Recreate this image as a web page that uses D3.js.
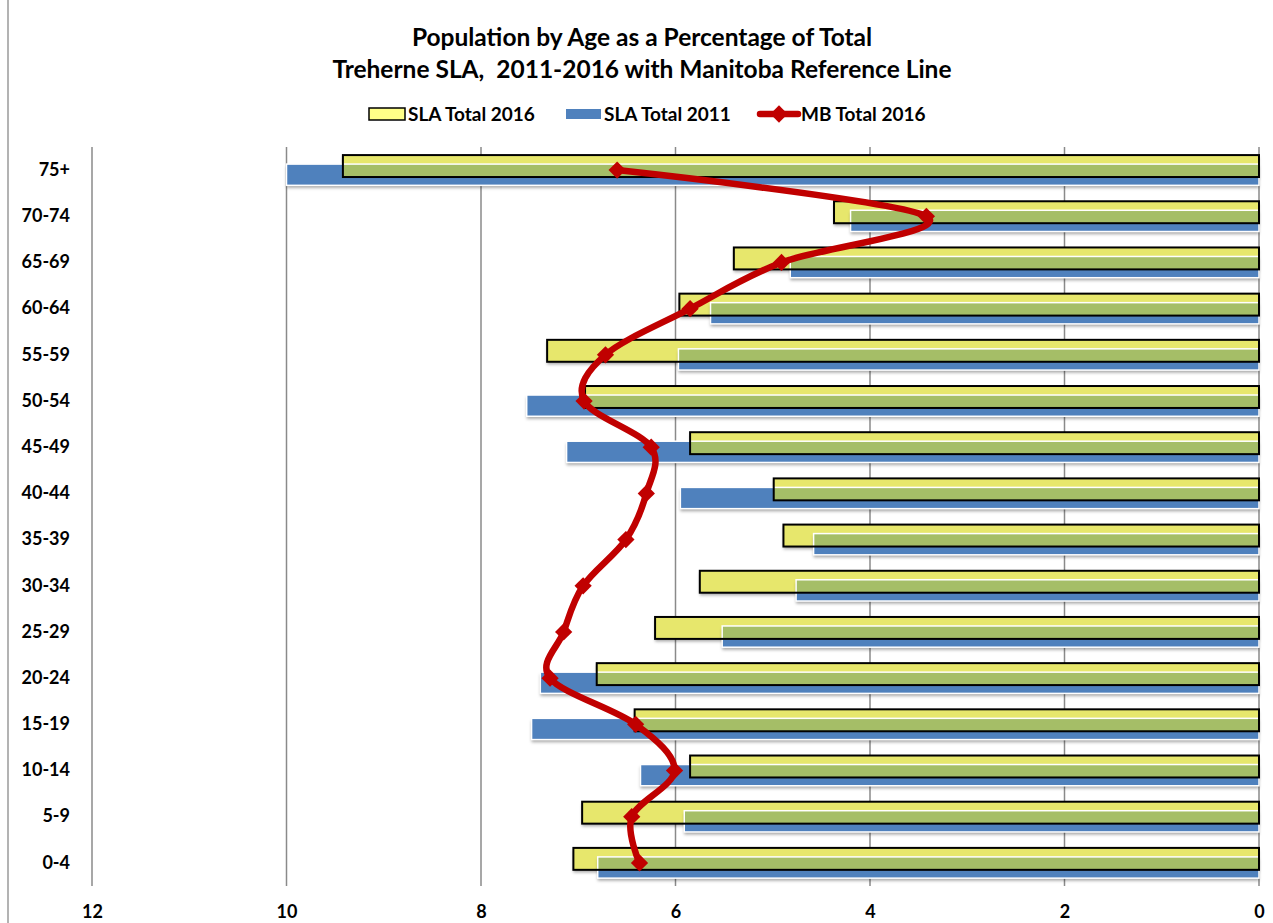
<!DOCTYPE html>
<html lang="en">
<head>
  <meta charset="UTF-8">
  <title>Population by Age</title>
  <script src="https://cdn.jsdelivr.net/npm/d3@7"></script>
  <style>
    body{ margin:0; background:#fff; }
    svg text{ font-family: Lato, "Open Sans", sans-serif; font-weight:700; fill:#000; }
  </style>
</head>
<body>
<div class="chart"></div>
<script>
  // data, top row first
  const ageGroups = ['75+','70-74','65-69','60-64','55-59','50-54','45-49','40-44','35-39','30-34','25-29','20-24','15-19','10-14','5-9','0-4'];
  const sla2016 = [9.42, 4.37, 5.40, 5.96, 7.32, 6.93, 5.85, 4.99, 4.89, 5.75, 6.21, 6.81, 6.42, 5.85, 6.96, 7.05];
  const sla2011 = [10.0, 4.20, 4.82, 5.64, 5.97, 7.53, 7.12, 5.95, 4.58, 4.76, 5.52, 7.39, 7.48, 6.36, 5.91, 6.80];
  const mb2016  = [6.60, 3.42, 4.91, 5.85, 6.72, 6.94, 6.25, 6.30, 6.51, 6.95, 7.15, 7.29, 6.41, 6.01, 6.45, 6.37];
  const xTicks = [12, 10, 8, 6, 4, 2, 0];
  const seriesNames = ['SLA Total 2016', 'SLA Total 2011', 'MB Total 2016'];

  const rows = ageGroups.map((g, i) => ({g, y16: sla2016[i], y11: sla2011[i], mb: mb2016[i]}));

  let chart = {
    size: {w: 1273, h: 923},
    plot: {left: 92, right: 1259, top: 147, bottom: 886}
  };

  const col = {yellow:'#E7E76C', blue:'#4F81BD', green:'#A5BE67', red:'#C00000', grid:'#8A8A8A'};

  let x = d3.scaleLinear().domain([12, 0]).range([chart.plot.left, chart.plot.right]);
  let y = d3.scaleBand().domain(ageGroups).range([chart.plot.top, chart.plot.bottom]);
  const bw = y.bandwidth();
  const yel = {off: bw*0.175, h: bw*0.475};
  const blu = {off: bw*0.37, h: bw*0.46};

  let svg = d3.select('.chart').append('svg')
    .attr('width', chart.size.w)
    .attr('height', chart.size.h);

  const defs = svg.append('defs');
  defs.append('filter').attr('id','shadow').attr('x','-5%').attr('y','-50%').attr('width','110%').attr('height','220%')
    .append('feDropShadow').attr('dx',0).attr('dy',2.5).attr('stdDeviation',1.5)
    .attr('flood-color','#000').attr('flood-opacity',0.35);

  // outer frame line
  svg.append('line').attr('x1',8).attr('x2',8).attr('y1',0).attr('y2',chart.size.h)
    .attr('stroke','#9a9a9a').attr('stroke-width',1.5);

  // title
  const title = svg.append('text').attr('text-anchor','middle').attr('font-size',24.5);
  title.append('tspan').attr('x',642).attr('y',46).text('Population by Age as a Percentage of Total');
  title.append('tspan').attr('x',642).attr('y',78).text('Treherne SLA,\u00a0\u00a02011-2016 with Manitoba Reference Line');

  // gridlines
  svg.append('g').selectAll('line').data(xTicks).enter().append('line')
    .attr('x1', d => x(d)).attr('x2', d => x(d))
    .attr('y1', chart.plot.top).attr('y2', chart.plot.bottom)
    .attr('stroke', col.grid).attr('stroke-width', 1.5);

  // axes
  let xAxis = d3.axisBottom(x).tickValues(xTicks).tickSize(0).tickPadding(19).tickFormat(d3.format('d'));
  let gx = svg.append('g').attr('transform', `translate(0, ${chart.plot.bottom})`).call(xAxis);
  gx.select('.domain').remove();
  gx.selectAll('text').attr('font-size', 18).attr('font-family', null);

  let yAxis = d3.axisLeft(y).tickSize(0).tickPadding(22);
  let gy = svg.append('g').attr('transform', `translate(${chart.plot.left}, 0)`).call(yAxis);
  gy.select('.domain').remove();
  gy.selectAll('text').attr('font-size', 18).attr('font-family', null);

  // bars
  let g = svg.append('g').selectAll('g').data(rows).enter().append('g')
    .attr('transform', d => `translate(0, ${y(d.g)})`);

  g.append('rect').attr('class','y16')
    .attr('x', d => x(d.y16)).attr('y', yel.off)
    .attr('width', d => x(0) - x(d.y16)).attr('height', yel.h)
    .attr('fill', col.yellow).attr('filter','url(#shadow)');

  g.append('rect').attr('class','y11')
    .attr('x', d => x(d.y11)).attr('y', blu.off)
    .attr('width', d => x(0) - x(d.y11)).attr('height', blu.h)
    .attr('fill', col.blue).attr('filter','url(#shadow)');

  // overlap area
  g.append('rect')
    .attr('x', d => x(Math.min(d.y16, d.y11))).attr('y', blu.off)
    .attr('width', d => x(0) - x(Math.min(d.y16, d.y11))).attr('height', yel.off + yel.h - blu.off)
    .attr('fill', col.green);

  g.append('rect')
    .attr('x', d => x(d.y11)).attr('y', blu.off)
    .attr('width', d => x(0) - x(d.y11)).attr('height', blu.h)
    .attr('fill', 'none').attr('stroke', '#fff').attr('stroke-width', 1.5);

  g.append('rect')
    .attr('x', d => x(d.y16)).attr('y', yel.off)
    .attr('width', d => x(0) - x(d.y16)).attr('height', yel.h)
    .attr('fill', 'none').attr('stroke', '#000').attr('stroke-width', 2);

  // MB reference line
  const line = d3.line()
    .x(d => x(d.mb)).y(d => y(d.g) + bw/2)
    .curve(d3.curveCatmullRom.alpha(0));
  svg.append('path').datum(rows)
    .attr('d', line).attr('fill','none')
    .attr('stroke', col.red).attr('stroke-width', 6.5).attr('stroke-linejoin','round');

  const diamond = d3.symbol().type(d3.symbolDiamond2).size(190);
  svg.append('g').selectAll('path').data(rows).enter().append('path')
    .attr('d', diamond)
    .attr('transform', d => `translate(${x(d.mb)}, ${y(d.g) + bw/2})`)
    .attr('fill', col.red);

  // legend
  const lg = svg.append('g').attr('transform', 'translate(0, 114)');
  lg.append('rect').attr('x',369).attr('y',-6).attr('width',36).attr('height',12)
    .attr('fill','#FFFF88').attr('stroke','#000').attr('stroke-width',1.5);
  lg.append('text').attr('x',408).attr('y',7).attr('font-size',19).text(seriesNames[0]);
  lg.append('rect').attr('x',566).attr('y',-5).attr('width',35).attr('height',10).attr('fill',col.blue);
  lg.append('text').attr('x',604).attr('y',7).attr('font-size',19).text(seriesNames[1]);
  lg.append('line').attr('x1',760).attr('x2',798).attr('y1',0).attr('y2',0)
    .attr('stroke',col.red).attr('stroke-width',6.5).attr('stroke-linecap','round');
  lg.append('path').attr('d', diamond).attr('transform','translate(779,0)').attr('fill',col.red);
  lg.append('text').attr('x',801).attr('y',7).attr('font-size',19).text(seriesNames[2]);
</script>
</body>
</html>
